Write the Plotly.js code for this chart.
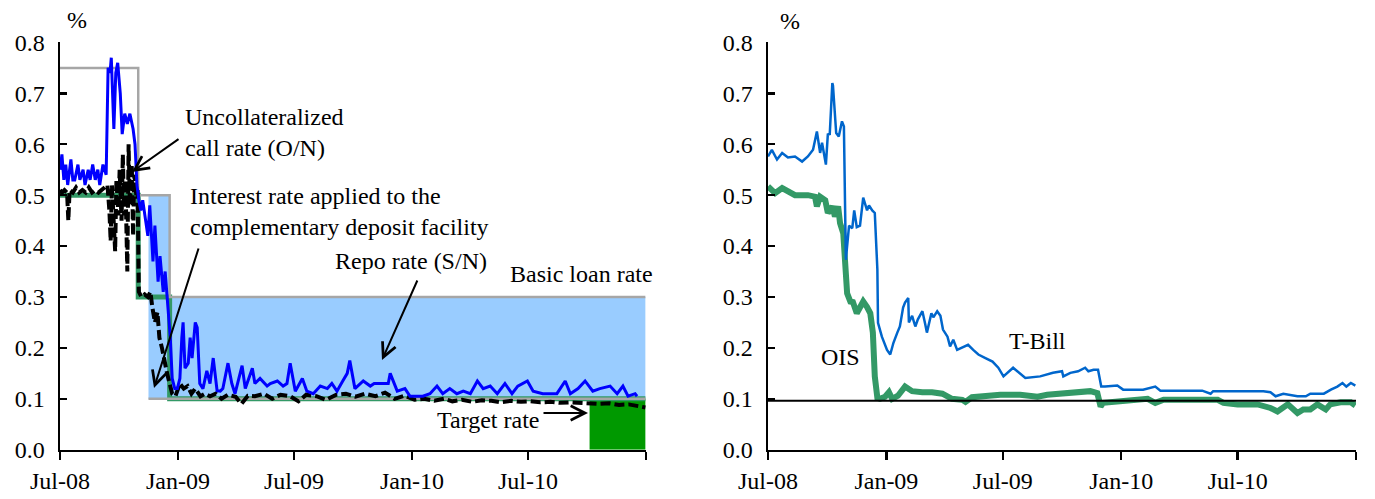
<!DOCTYPE html>
<html>
<head>
<meta charset="utf-8">
<script src="https://cdn.plot.ly/plotly-3.0.1.min.js"></script>
<style>html,body{margin:0;padding:0;background:#fff;}#chart{width:1375px;height:499px;}</style>
</head>
<body>
<div id="chart"></div>
<script>
// ---------- Tick labels ----------
const xTickVals = ['2008-07-01','2009-01-01','2009-07-01','2010-01-01','2010-07-01','2011-01-01'];
const xTickText = ['Jul-08','Jan-09','Jul-09','Jan-10','Jul-10',''];
const yTickVals = [0,0.1,0.2,0.3,0.4,0.5,0.6,0.7,0.8];
const yTickText = ['0.0','0.1','0.2','0.3','0.4','0.5','0.6','0.7','0.8'];

// ---------- Left panel: policy rates ----------
const basicLoanDates = ['2008-07-01','2008-10-31','2008-12-19','2010-12-31'];
const basicLoanRate  = [0.75, 0.5, 0.3, 0.3];
const targetDates = ['2008-07-01','2008-10-31','2008-12-19','2010-12-31'];
const targetRate  = [0.5, 0.3, 0.1, 0.1];
const facilityDates = ['2008-11-16','2008-12-19','2010-12-31'];
const facilityUpper = [0.5, 0.3, 0.3];
const depositRate   = [0.1, 0.1, 0.1];
const targetRangeDates = ['2010-10-05','2010-12-31'];
const targetRangeUpper = [0.1, 0.1];

// Repo rate (S/N)
const repoDates = ['2008-07-01','2008-07-04','2008-07-07','2008-07-10','2008-07-13','2008-07-18','2008-07-21','2008-07-24','2008-07-29','2008-08-01',
 '2008-08-06','2008-08-09','2008-08-14','2008-08-17','2008-08-21','2008-08-25','2008-08-29','2008-09-01','2008-09-06','2008-09-11',
 '2008-09-14','2008-09-17','2008-09-19','2008-09-22','2008-09-23','2008-09-26','2008-09-29','2008-10-03','2008-10-06','2008-10-10',
 '2008-10-14','2008-10-18','2008-10-23','2008-10-26','2008-10-29','2008-11-01','2008-11-04','2008-11-07','2008-11-12','2008-11-15',
 '2008-11-18','2008-11-23','2008-11-26','2008-12-01','2008-12-04','2008-12-09','2008-12-12','2008-12-15','2008-12-20','2008-12-23',
 '2008-12-27','2008-12-31','2009-01-04','2009-01-07','2009-01-09','2009-01-12','2009-01-17','2009-01-20','2009-01-23','2009-01-28',
 '2009-01-31','2009-02-04','2009-02-09','2009-02-15','2009-02-20','2009-02-25','2009-03-03','2009-03-08','2009-03-12','2009-03-20',
 '2009-03-26','2009-03-31','2009-04-11','2009-04-16','2009-04-27','2009-05-01','2009-05-09','2009-05-20','2009-05-25','2009-06-05',
 '2009-06-14','2009-06-20','2009-06-25','2009-07-03','2009-07-14','2009-07-21','2009-07-31','2009-08-11','2009-08-22','2009-08-29',
 '2009-09-06','2009-09-15','2009-09-22','2009-09-26','2009-10-04','2009-10-17','2009-10-28','2009-11-03','2009-11-25','2009-11-28',
 '2009-12-09','2009-12-21','2009-12-29','2010-01-18','2010-01-29','2010-02-09','2010-02-18','2010-03-01','2010-03-12','2010-03-22',
 '2010-04-02','2010-04-13','2010-04-22','2010-05-03','2010-05-14','2010-05-26','2010-06-06','2010-06-15','2010-06-30','2010-07-09',
 '2010-07-24','2010-08-15','2010-08-28','2010-09-05','2010-09-17','2010-09-28','2010-10-10','2010-10-21','2010-11-06','2010-11-17',
 '2010-11-26','2010-12-04','2010-12-15','2010-12-18'];
const repoRate = [0.55,0.58,0.53,0.56,0.52,0.57,0.53,0.53,0.56,0.53,
 0.55,0.52,0.55,0.53,0.56,0.53,0.55,0.52,0.56,0.54,
 0.75,0.74,0.77,0.68,0.63,0.74,0.76,0.70,0.62,0.66,
 0.64,0.66,0.63,0.60,0.52,0.49,0.47,0.49,0.44,0.42,
 0.48,0.37,0.44,0.33,0.38,0.31,0.35,0.30,0.22,0.14,
 0.12,0.12,0.14,0.22,0.25,0.16,0.17,0.22,0.18,0.25,
 0.24,0.13,0.12,0.155,0.13,0.18,0.116,0.115,0.12,0.17,
 0.13,0.11,0.165,0.12,0.16,0.13,0.14,0.125,0.13,0.135,
 0.125,0.13,0.17,0.115,0.14,0.115,0.11,0.125,0.12,0.13,
 0.115,0.135,0.15,0.175,0.12,0.135,0.125,0.13,0.13,0.15,
 0.115,0.12,0.105,0.105,0.11,0.125,0.11,0.12,0.11,0.115,
 0.11,0.135,0.12,0.125,0.11,0.13,0.11,0.125,0.135,0.115,
 0.11,0.11,0.135,0.11,0.12,0.135,0.115,0.12,0.125,0.11,
 0.125,0.105,0.11,0.105];

// Uncollateralized call rate (O/N)
const callDates = ['2008-07-01','2008-07-04','2008-07-08','2008-07-12','2008-07-14','2008-07-16','2008-07-21','2008-07-26','2008-07-31','2008-08-05',
 '2008-08-10','2008-08-15','2008-08-20','2008-08-25','2008-08-30','2008-09-04','2008-09-09','2008-09-13','2008-09-16','2008-09-18',
 '2008-09-20','2008-09-23','2008-09-25','2008-09-27','2008-09-30','2008-10-02','2008-10-05','2008-10-07','2008-10-09','2008-10-11',
 '2008-10-14','2008-10-16','2008-10-18','2008-10-21','2008-10-23','2008-10-25','2008-10-28','2008-10-30','2008-11-01','2008-11-05',
 '2008-11-10','2008-11-15','2008-11-19','2008-11-22','2008-11-26','2008-11-30','2008-12-03','2008-12-07','2008-12-11','2008-12-15',
 '2008-12-19','2008-12-23','2008-12-28','2009-01-04','2009-01-10','2009-01-16','2009-01-22','2009-01-28','2009-02-05','2009-02-12',
 '2009-02-20','2009-03-01','2009-03-10','2009-03-20','2009-04-01','2009-04-10','2009-04-20','2009-05-01','2009-05-15','2009-05-28',
 '2009-06-10','2009-06-25','2009-07-08','2009-07-20','2009-08-05','2009-08-20','2009-09-05','2009-09-20','2009-10-05','2009-10-20',
 '2009-11-05','2009-11-20','2009-12-05','2009-12-20','2010-01-05','2010-01-20','2010-02-05','2010-02-20','2010-03-05','2010-03-20',
 '2010-04-05','2010-04-20','2010-05-05','2010-05-20','2010-06-05','2010-06-20','2010-07-05','2010-07-20','2010-08-05','2010-08-20',
 '2010-09-05','2010-09-20','2010-10-05','2010-10-20','2010-11-05','2010-11-20','2010-12-05','2010-12-20','2010-12-31'];
const callRate = [0.51,0.505,0.51,0.505,0.45,0.51,0.505,0.515,0.505,0.51,
 0.505,0.515,0.505,0.51,0.505,0.51,0.515,0.52,0.47,0.41,
 0.52,0.45,0.39,0.53,0.46,0.55,0.45,0.58,0.46,0.53,
 0.35,0.60,0.48,0.56,0.42,0.54,0.50,0.51,0.31,0.30,
 0.305,0.30,0.31,0.28,0.25,0.27,0.22,0.20,0.17,0.15,
 0.13,0.11,0.105,0.13,0.12,0.125,0.11,0.12,0.105,0.11,
 0.105,0.11,0.10,0.108,0.104,0.09,0.106,0.105,0.11,0.10,
 0.108,0.105,0.095,0.108,0.105,0.098,0.108,0.11,0.104,0.11,
 0.105,0.112,0.10,0.106,0.098,0.10,0.096,0.10,0.095,0.098,
 0.094,0.097,0.096,0.093,0.096,0.094,0.095,0.093,0.094,0.092,
 0.093,0.092,0.09,0.09,0.091,0.088,0.089,0.086,0.083];

// ---------- Right panel: market rates ----------
const tbillDates = ['2008-07-01','2008-07-07','2008-07-15','2008-07-23','2008-08-01','2008-08-12','2008-08-23','2008-09-01','2008-09-09','2008-09-15',
 '2008-09-20','2008-09-23','2008-09-29','2008-10-02','2008-10-05','2008-10-09','2008-10-10','2008-10-15','2008-10-19','2008-10-24',
 '2008-10-27','2008-10-29','2008-10-30','2008-11-04','2008-11-09','2008-11-12','2008-11-16','2008-11-21','2008-11-26','2008-12-02',
 '2008-12-05','2008-12-10','2008-12-14','2008-12-18','2008-12-19','2008-12-25','2009-01-02','2009-01-07','2009-01-12','2009-01-18',
 '2009-01-22','2009-01-27','2009-01-30','2009-02-04','2009-02-05','2009-02-10','2009-02-15','2009-02-19','2009-02-26','2009-03-02',
 '2009-03-05','2009-03-12','2009-03-15','2009-03-21','2009-03-26','2009-03-30','2009-04-06','2009-04-10','2009-04-15','2009-04-21',
 '2009-04-29','2009-05-08','2009-05-16','2009-05-24','2009-06-04','2009-06-15','2009-06-24','2009-07-02','2009-07-17','2009-08-05',
 '2009-08-28','2009-09-17','2009-10-01','2009-10-03','2009-10-14','2009-10-26','2009-11-06','2009-11-11','2009-11-19','2009-11-26',
 '2009-12-01','2009-12-07','2009-12-26','2010-01-04','2010-02-04','2010-02-23','2010-03-03','2010-05-07','2010-05-20','2010-05-24',
 '2010-08-10','2010-08-21','2010-08-29','2010-09-10','2010-10-02','2010-10-15','2010-10-22','2010-11-12','2010-11-23','2010-12-03',
 '2010-12-11','2010-12-17','2010-12-24','2010-12-31'];
const tbillRate = [0.576,0.589,0.57,0.583,0.574,0.576,0.566,0.576,0.589,0.625,
 0.583,0.603,0.56,0.619,0.62,0.72,0.715,0.622,0.615,0.645,
 0.635,0.49,0.373,0.44,0.435,0.47,0.437,0.44,0.495,0.47,
 0.48,0.47,0.465,0.354,0.249,0.222,0.196,0.187,0.21,0.23,
 0.242,0.279,0.289,0.298,0.25,0.263,0.242,0.256,0.272,0.249,
 0.23,0.268,0.26,0.272,0.263,0.236,0.222,0.203,0.216,0.196,
 0.20,0.206,0.196,0.187,0.18,0.173,0.161,0.144,0.161,0.141,
 0.144,0.151,0.154,0.144,0.151,0.154,0.161,0.154,0.157,0.157,
 0.124,0.124,0.126,0.118,0.118,0.124,0.116,0.116,0.11,0.115,
 0.115,0.113,0.105,0.11,0.105,0.105,0.11,0.11,0.118,0.124,
 0.131,0.124,0.131,0.126];

const oisDates = ['2008-07-01','2008-07-12','2008-07-23','2008-08-01','2008-08-12','2008-09-01','2008-09-12','2008-09-15','2008-09-20','2008-09-28',
 '2008-10-02','2008-10-09','2008-10-13','2008-10-18','2008-10-21','2008-10-26','2008-10-29','2008-11-01','2008-11-06','2008-11-10',
 '2008-11-16','2008-11-21','2008-11-26','2008-12-02','2008-12-07','2008-12-11','2008-12-14','2008-12-18','2008-12-22','2008-12-30',
 '2009-01-05','2009-01-10','2009-01-19','2009-01-30','2009-02-10','2009-02-26','2009-03-13','2009-03-29','2009-04-13','2009-04-29',
 '2009-05-04','2009-05-14','2009-06-04','2009-06-27','2009-07-28','2009-08-24','2009-09-08','2009-10-03','2009-10-29','2009-11-14',
 '2009-11-25','2009-11-30','2009-12-04','2009-12-26','2010-01-15','2010-02-11','2010-02-23','2010-03-08','2010-04-30','2010-05-31',
 '2010-06-09','2010-07-01','2010-08-01','2010-08-21','2010-09-01','2010-09-17','2010-10-02','2010-10-11','2010-10-22','2010-11-02',
 '2010-11-15','2010-11-22','2010-12-08','2010-12-24','2010-12-31'];
const oisRate = [0.517,0.504,0.514,0.507,0.50,0.50,0.497,0.478,0.497,0.49,
 0.465,0.478,0.458,0.478,0.445,0.425,0.373,0.307,0.291,0.29,
 0.268,0.282,0.291,0.28,0.268,0.23,0.144,0.102,0.10,0.104,
 0.113,0.10,0.106,0.124,0.115,0.113,0.113,0.11,0.10,0.098,
 0.094,0.103,0.106,0.108,0.108,0.104,0.108,0.11,0.111,0.115,
 0.111,0.085,0.092,0.095,0.098,0.10,0.092,0.098,0.098,0.098,
 0.092,0.089,0.089,0.082,0.075,0.089,0.072,0.079,0.079,0.089,
 0.079,0.089,0.093,0.093,0.087];

const refLineDates = ['2008-07-01','2011-01-01'];
const refLineRate  = [0.096, 0.096];

// ---------- Traces ----------
const FONT = '"Liberation Serif", "Times New Roman", Times, serif';
const traces = [
  {x: facilityDates, y: depositRate, xaxis:'x', yaxis:'y', mode:'lines', line:{width:0, color:'rgba(0,0,0,0)'}, hoverinfo:'skip'},
  {x: facilityDates, y: facilityUpper, xaxis:'x', yaxis:'y', mode:'lines', line:{width:0, shape:'hv', color:'rgba(0,0,0,0)'}, fill:'tonexty', fillcolor:'#99CCFF'},
  {x: targetRangeDates, y: targetRangeUpper, xaxis:'x', yaxis:'y', mode:'lines', line:{width:0, color:'rgba(0,0,0,0)'}, fill:'tozeroy', fillcolor:'#009900'},
  {x: targetDates, y: targetRate, xaxis:'x', yaxis:'y', mode:'lines', line:{width:5, shape:'hv', color:'#339966'}},
  {x: basicLoanDates, y: basicLoanRate, xaxis:'x', yaxis:'y', mode:'lines', line:{width:2.5, shape:'hv', color:'#A6A6A6'}},
  {x: facilityDates, y: depositRate, xaxis:'x', yaxis:'y', mode:'lines', line:{width:2.5, color:'#A6A6A6'}},
  {x: callDates, y: callRate, xaxis:'x', yaxis:'y', mode:'lines', line:{width:4, color:'#000000', dash:'10px,4px'}},
  {x: repoDates, y: repoRate, xaxis:'x', yaxis:'y', mode:'lines', line:{width:3, color:'#0000FF'}},
  {x: oisDates, y: oisRate, xaxis:'x2', yaxis:'y2', mode:'lines', line:{width:6, color:'#339966'}},
  {x: tbillDates, y: tbillRate, xaxis:'x2', yaxis:'y2', mode:'lines', line:{width:2.5, color:'#0066CC'}},
  {x: refLineDates, y: refLineRate, xaxis:'x2', yaxis:'y2', mode:'lines', line:{width:2, color:'#000000'}}
];

function xAxis(domain, anchor){
  return {type:'date', domain:domain, anchor:anchor, range:['2008-07-01','2011-01-01'],
    tickmode:'array', tickvals:xTickVals, ticktext:xTickText,
    ticks:'outside', ticklen:8, tickwidth:2.5, tickcolor:'#000',
    showline:true, linewidth:2.5, linecolor:'#000', showgrid:false, zeroline:false,
    tickfont:{family:FONT, size:24, color:'#000'}, fixedrange:true};
}
function yAxis(domain, anchor){
  return {domain:domain, anchor:anchor, range:[0,0.8],
    tickmode:'array', tickvals:yTickVals, ticktext:yTickText,
    ticks:'inside', ticklen:7, tickwidth:2.5, tickcolor:'#000',
    showline:true, linewidth:2.5, linecolor:'#000', showgrid:false, zeroline:false,
    tickfont:{family:FONT, size:24, color:'#000'}, ticklabelstandoff:8, fixedrange:true};
}

const W = 1375, H = 499;
function px(x){ return x / W; }
function py(y){ return 1 - y / H; }
function txt(text, x, y, xanchor){
  return {text:text, x:px(x), y:py(y), xref:'paper', yref:'paper', showarrow:false,
    xanchor:xanchor || 'center', yanchor:'middle', align:'left',
    font:{family:FONT, size:24, color:'#000'}};
}
function arrow(tipX, tipY, tailX, tailY){
  return {text:'', x:px(tipX), y:py(tipY), xref:'paper', yref:'paper', showarrow:true,
    ax:tailX - tipX, ay:tailY - tipY, axref:'pixel', ayref:'pixel',
    arrowhead:5, arrowsize:1.4, arrowwidth:2, arrowcolor:'#000'};
}

const layout = {
  width:W, height:H, margin:{l:0, r:0, t:0, b:0},
  paper_bgcolor:'#fff', plot_bgcolor:'#fff', showlegend:false, hovermode:false,
  font:{family:FONT, size:24, color:'#000'},
  xaxis: xAxis([60/W, 646/W], 'y'),
  yaxis: yAxis([0.0988, 0.915], 'x'),
  xaxis2: xAxis([768/W, 1356/W], 'y2'),
  yaxis2: yAxis([0.0988, 0.915], 'x2'),
  annotations: [
    txt('%', 77, 20),
    txt('Uncollateralized<br>call rate (O/N)', 183, 133, 'left'),
    txt('Interest rate applied to the<br>complementary deposit facility', 188, 211, 'left'),
    txt('Repo rate (S/N)', 411, 261),
    txt('Basic loan rate', 581, 274),
    txt('Target rate', 488, 420),
    arrow(132, 172, 180, 138),
    arrow(154, 388, 199, 247),
    arrow(382, 360, 418, 279),
    arrow(588, 413, 542, 413),
    txt('%', 790, 21),
    txt('OIS', 840, 357),
    txt('T-Bill', 1037, 341)
  ]
};

Plotly.newPlot('chart', traces, layout, {staticPlot:true, displayModeBar:false});
</script>
</body>
</html>
